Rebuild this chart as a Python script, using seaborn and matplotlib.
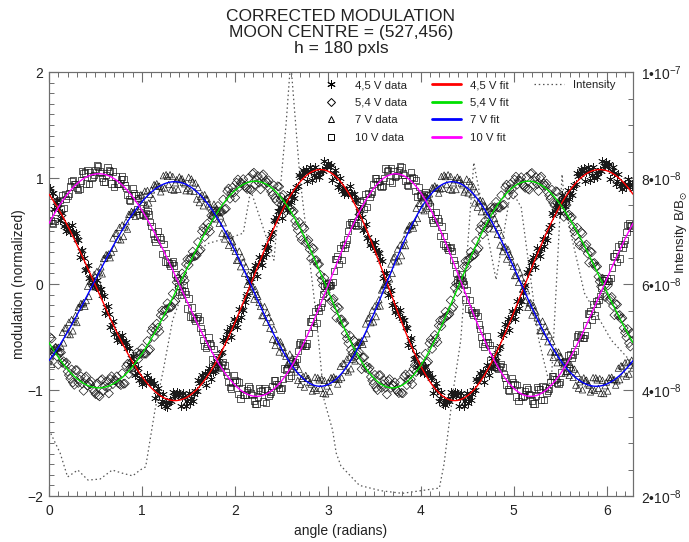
import numpy as np
import pandas as pd
import matplotlib
matplotlib.use("Agg")
import matplotlib.pyplot as plt
from matplotlib.lines import Line2D
from matplotlib.ticker import MultipleLocator, FixedLocator, FixedFormatter
import seaborn as sns

# ---------------- data ----------------
series_names = ["4,5 V", "5,4 V", "7 V", "10 V"]
fit_colors = ["#ff0000", "#00e000", "#0000ff", "#ff00ff"]
data_markers = [(6, 2, 0), "D", "^", "s"]
# fit parameters: y = C + A*cos(2*theta + g0 - gm*cos(theta - gpsi))
fit_amp = [1.09, 0.975, 0.965, 1.05]
fit_off = [-0.01, -0.005, 0.0, -0.01]
fit_g0 = [0.57, 2.05, 3.75, -1.13]
fit_gm = [0.19, 0.20, 0.23, 0.20]
fit_gpsi = [2.1, 2.2, 2.1, 2.4]
# observed spread of data points around the fit
residual_pattern = [0.05, -0.07, 0.01, 0.08, -0.02, -0.08, 0.05, 0.00, -0.04,
                    0.07, -0.01, 0.03, -0.06, 0.08, -0.07, 0.02, 0.04, -0.03, 0.06]

# intensity curve (right axis), angle in radians, value in units of 1e-8
int_angle = [0.00, 0.12, 0.20, 0.31, 0.42, 0.55, 0.68, 0.79, 0.90, 0.98, 1.04,
             1.14, 1.23, 1.33, 1.41, 1.49, 1.60, 1.72, 1.84, 1.98, 2.09, 2.17,
             2.42, 2.55, 2.60, 2.70, 2.88, 2.96, 3.05, 3.09, 3.14, 3.34, 3.57,
             3.80, 4.00, 4.20, 4.25, 4.35, 4.43, 4.57, 4.81, 4.97, 5.08, 5.27,
             5.40, 5.52, 5.55, 5.76, 6.05, 6.28]
int_value = [3.25, 2.81, 2.36, 2.49, 2.30, 2.32, 2.49, 2.43, 2.38, 2.49, 2.55,
             3.62, 4.38, 5.32, 5.70, 6.32, 6.64, 6.77, 6.83, 6.89, 6.96, 7.77,
             6.45, 9.00, 10.2, 8.00, 5.32, 3.81, 3.25, 2.81, 2.57, 2.20, 2.10,
             2.05, 2.10, 2.15, 2.60, 4.00, 4.94, 8.29, 6.08, 7.78, 7.45, 4.94,
             4.00, 8.07, 7.45, 5.83, 4.94, 4.50]

left_ticks = [-2, -1, 0, 1, 2]
x_ticks = [0, 1, 2, 3, 4, 5, 6]
right_ticks = [2e-8, 4e-8, 6e-8, 8e-8, 1e-7]
right_tick_labels = ["2•10$^{-8}$", "4•10$^{-8}$", "6•10$^{-8}$", "8•10$^{-8}$", "1•10$^{-7}$"]

# ---------------- style ----------------
sns.set_style("white")
plt.rcParams["font.family"] = ["Liberation Sans", "DejaVu Sans"]
plt.rcParams["mathtext.fontset"] = "custom"
plt.rcParams["mathtext.rm"] = "Liberation Sans"
plt.rcParams["mathtext.it"] = "Liberation Sans:italic"
plt.rcParams["mathtext.default"] = "regular"

W, H = 689, 542
fig = plt.figure(figsize=(W / 100, H / 100), dpi=100)
L, R, T, B = 49, 633, 72, 496
ax = fig.add_axes([L / W, 1 - B / H, (R - L) / W, (B - T) / H])
ax2 = ax.twinx()
ax.set_zorder(ax2.get_zorder() + 1)
ax.patch.set_visible(False)

axis_col = "#6e6e6e"
text_col = "#222222"
mark_col = "#1a1a1a"

# intensity
df_int = pd.DataFrame({"angle": int_angle, "intensity": np.array(int_value) * 1e-8})
sns.lineplot(data=df_int, x="angle", y="intensity", ax=ax2, color="#555555",
             linestyle=(0, (1.2, 2.2)), linewidth=0.9, sort=False)

theta_fit = np.linspace(0, 2 * np.pi, 600)
theta_dat = np.linspace(0, 2 * np.pi, 440)

def model(th, i):
    return fit_off[i] + fit_amp[i] * np.cos(2 * th + fit_g0[i] - fit_gm[i] * np.cos(th - fit_gpsi[i]))

for i, name in enumerate(series_names):
    res = np.array([residual_pattern[(k * (i + 3) + 5 * i) % len(residual_pattern)]
                    for k in range(len(theta_dat))])
    df_d = pd.DataFrame({"angle": theta_dat, "mod": model(theta_dat, i) + res})
    if i == 0:
        sns.scatterplot(data=df_d, x="angle", y="mod", ax=ax, marker=data_markers[i],
                        s=34, color=mark_col, linewidth=0.5, zorder=2)
    else:
        sns.scatterplot(data=df_d, x="angle", y="mod", ax=ax, marker=data_markers[i],
                        s=21, facecolor="none", edgecolor=mark_col, linewidth=0.5, zorder=2)
for i, name in enumerate(series_names):
    df_f = pd.DataFrame({"angle": theta_fit, "mod": model(theta_fit, i)})
    sns.lineplot(data=df_f, x="angle", y="mod", ax=ax, color=fit_colors[i],
                 linewidth=1.0, zorder=3, sort=False)

# axes
ax.set_xlim(0, 2 * np.pi)
ax.set_ylim(-2, 2)
ax2.set_ylim(2e-8, 1e-7)
ax.xaxis.set_major_locator(FixedLocator(x_ticks))
ax.xaxis.set_minor_locator(MultipleLocator(0.1))
ax.yaxis.set_major_locator(FixedLocator(left_ticks))
ax.yaxis.set_minor_locator(MultipleLocator(0.1))
ax2.yaxis.set_major_locator(FixedLocator(right_ticks))
ax2.yaxis.set_major_formatter(FixedFormatter(right_tick_labels))
ax2.yaxis.set_minor_locator(MultipleLocator(0.5e-8))

ax.tick_params(axis="x", which="both", direction="in", top=True, bottom=True,
               color=axis_col, labelcolor=text_col, labelsize=10, pad=6)
ax.tick_params(axis="y", which="both", direction="in", left=True, right=False,
               color=axis_col, labelcolor=text_col, labelsize=10, pad=4)
ax2.tick_params(axis="y", which="both", direction="in", right=True, left=False,
                color=axis_col, labelcolor=text_col, labelsize=10, pad=6)
for a in (ax, ax2):
    a.tick_params(which="major", length=7, width=0.8)
    a.tick_params(which="minor", length=3.5, width=0.7)
    for sp in a.spines.values():
        sp.set_color(axis_col)
        sp.set_linewidth(0.8)

ax.set_xlabel("angle (radians)", fontsize=10, color=text_col, labelpad=4)
ax.set_ylabel("modulation (normalized)", fontsize=10, color=text_col, labelpad=1)
ax2.set_ylabel("")
fig.text(673 / W, 1 - 232 / H, "Intensity B/B$_{\\odot}$", rotation=90, ha="left",
         va="center", fontsize=9.5, color=text_col)

# title
cx = 341 / W
fig.text(cx, 1 - 21 / H, "CORRECTED MODULATION", ha="center", va="baseline", fontsize=12.5, color=text_col)
fig.text(cx, 1 - 37 / H, "MOON CENTRE = (527,456)", ha="center", va="baseline", fontsize=12.5, color=text_col)
fig.text(cx, 1 - 53 / H, "h = 180 pxls", ha="center", va="baseline", fontsize=12.5, color=text_col)

# legend
handles = []
labels = []
for i, name in enumerate(series_names):
    if i == 0:
        handles.append(Line2D([], [], linestyle="none", marker=data_markers[i], color="black",
                              markersize=6, markeredgewidth=0.7))
    else:
        handles.append(Line2D([], [], linestyle="none", marker=data_markers[i], markerfacecolor="none",
                              markeredgecolor="black", markersize=4.5, markeredgewidth=0.7))
    labels.append(name + " data")
for i, name in enumerate(series_names):
    handles.append(Line2D([], [], color=fit_colors[i], linewidth=2))
    labels.append(name + " fit")
handles.append(Line2D([], [], color="#555555", linestyle=(0, (1.2, 2.2)), linewidth=0.9))
labels.append("Intensity")
for _ in range(3):
    handles.append(Line2D([], [], linestyle="none"))
    labels.append("")
leg = ax.legend(handles, labels, ncol=3, loc="upper left",
                bbox_to_anchor=(316 / W, 1 - 80 / H), bbox_transform=fig.transFigure,
                frameon=False, fontsize=8.2, handlelength=2.6, handletextpad=0.8,
                columnspacing=2.2, labelspacing=0.66, borderaxespad=0.0, borderpad=0.0)
for t in leg.get_texts():
    t.set_color(text_col)

fig.savefig("out.png", dpi=100)
